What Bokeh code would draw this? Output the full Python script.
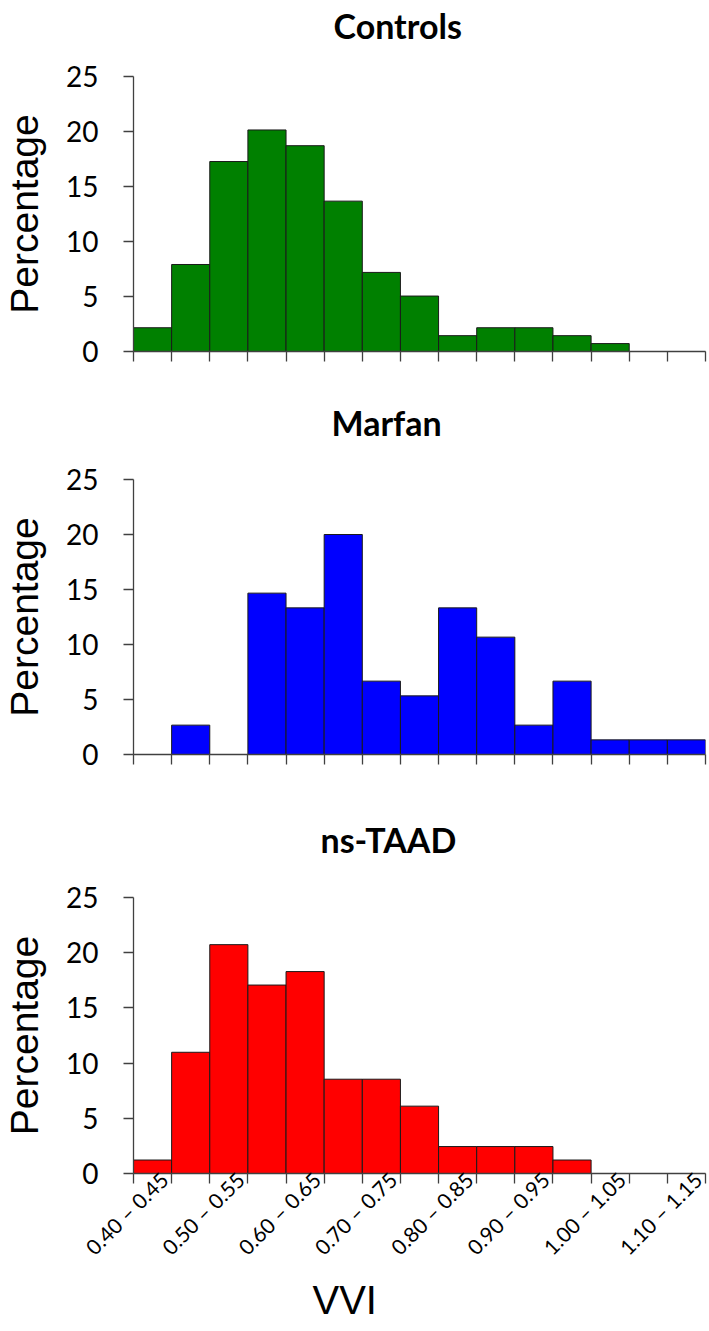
from math import pi
from bokeh.plotting import figure
from bokeh.models import Range1d, FixedTicker, LinearAxis, Title
from bokeh.layouts import column
from bokeh.embed import file_html
from bokeh.resources import INLINE

# ---- data (percentage of subjects per VVI bin) ----
bin_labels = ["0.40 – 0.45", "0.45 – 0.50", "0.50 – 0.55", "0.55 – 0.60",
              "0.60 – 0.65", "0.65 – 0.70", "0.70 – 0.75", "0.75 – 0.80",
              "0.80 – 0.85", "0.85 – 0.90", "0.90 – 0.95", "0.95 – 1.00",
              "1.00 – 1.05", "1.05 – 1.10", "1.10 – 1.15"]
tick_labels = ["0.40 – 0.45", "0.50 – 0.55", "0.60 – 0.65", "0.70 – 0.75",
               "0.80 – 0.85", "0.90 – 0.95", "1.00 – 1.05", "1.10 – 1.15"]
controls = [2.16, 7.91, 17.27, 20.14, 18.71, 13.67, 7.19, 5.04, 1.44, 2.16, 2.16, 1.44, 0.72, 0, 0]
marfan = [0, 2.67, 0, 14.67, 13.33, 20.00, 6.67, 5.33, 13.33, 10.67, 2.67, 6.67, 1.33, 1.33, 1.33]
nstaad = [1.22, 10.98, 20.73, 17.07, 18.29, 8.54, 8.54, 6.10, 2.44, 2.44, 2.44, 1.22, 0, 0, 0]
groups = ["Controls", "Marfan", "ns-TAAD"]
colors = ["#008000", "#0000FF", "#FF0000"]
y_ticks = [0, 5, 10, 15, 20, 25]
x_title = "VVI"
y_title = "Percentage"

AXIS_COLOR = "#404040"
TICK_FONT = "Lato"
LABEL_FONT = "Liberation Sans"

n_bins = len(bin_labels)
edges = list(range(n_bins + 1))
lefts = list(range(n_bins))
rights = [i + 1 for i in lefts]
# rotated labels end a little right of their bin centre
label_pos = [bin_labels.index(t) + 0.8 for t in tick_labels]

title_offsets = [200, 198, 187]
heights = [397, 417, 517]
tops = [76, 82, 83]
bottoms = [46, 60, 158]


def make(idx, values):
    last = idx == 2
    p = figure(width=708, height=heights[idx], output_backend="svg",
               toolbar_location=None, x_range=Range1d(0, n_bins),
               y_range=Range1d(0, 25), x_axis_location=None,
               min_border_left=132, min_border_right=3,
               min_border_top=tops[idx], min_border_bottom=bottoms[idx])
    p.outline_line_color = None
    p.background_fill_color = "white"
    p.border_fill_color = "white"
    p.xgrid.visible = False
    p.ygrid.visible = False

    p.quad(left=lefts, right=rights, bottom=0, top=values,
           fill_color=colors[idx], line_color="#1a1a1a", line_width=1)

    # y axis
    ya = p.yaxis[0]
    ya.ticker = FixedTicker(ticks=y_ticks)
    ya.axis_line_color = AXIS_COLOR
    ya.axis_line_width = 1.3
    ya.major_tick_line_color = AXIS_COLOR
    ya.major_tick_line_width = 1.3
    ya.major_tick_out = 10
    ya.major_tick_in = 0
    ya.minor_tick_line_color = None
    ya.major_label_text_font = TICK_FONT
    ya.major_label_text_font_size = "28px"
    ya.major_label_text_color = "black"
    ya.major_label_standoff = 25
    ya.axis_label = y_title
    ya.axis_label_text_font = LABEL_FONT
    ya.axis_label_text_font_size = "39px"
    ya.axis_label_text_font_style = "normal"
    ya.axis_label_text_color = "black"
    ya.axis_label_standoff = 17

    # x axis: minor ticks mark the bin edges, major (hidden) ticks carry labels
    xa = LinearAxis(
        ticker=FixedTicker(ticks=label_pos if last else [], minor_ticks=edges),
        axis_line_color=AXIS_COLOR, axis_line_width=1.3,
        major_tick_out=0, major_tick_in=0, major_tick_line_color=None,
        minor_tick_out=10, minor_tick_in=0,
        minor_tick_line_color=AXIS_COLOR, minor_tick_line_width=1.3,
    )
    if last:
        xa.major_label_overrides = {pos: lab for pos, lab in zip(label_pos, tick_labels)}
        xa.major_label_orientation = pi / 4
        xa.major_label_text_font = TICK_FONT
        xa.major_label_text_font_size = "21px"
        xa.major_label_text_color = "black"
        xa.major_label_standoff = -8
    p.add_layout(xa, "below")

    if last:
        p.add_layout(Title(text=x_title, align="left", offset=179, standoff=8,
                           text_font=LABEL_FONT, text_font_size="40px",
                           text_font_style="normal", text_color="black"), "below")

    # spacer between the plot area and the title (an axis with one blank tick)
    mid = n_bins / 2
    spacer = LinearAxis(ticker=FixedTicker(ticks=[mid]), axis_line_color=None,
                        major_tick_out=tops[idx] - 45, major_tick_in=0,
                        major_tick_line_color=None, minor_tick_line_color=None,
                        major_label_standoff=0, major_label_overrides={mid: ""},
                        major_label_text_font_size="1px")
    p.add_layout(spacer, "above")
    p.add_layout(Title(text=groups[idx], align="left", offset=title_offsets[idx],
                       standoff=0, text_font=TICK_FONT, text_font_size="34px",
                       text_font_style="bold", text_color="black"), "above")
    return p


plots = [make(0, controls), make(1, marfan), make(2, nstaad)]
layout = column(*plots, spacing=0)

open("out.html", "w").write(file_html(layout, INLINE))
